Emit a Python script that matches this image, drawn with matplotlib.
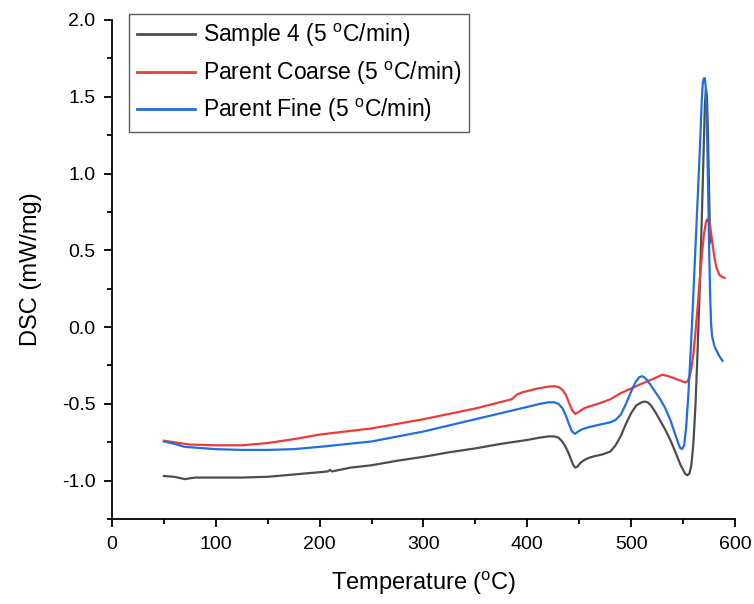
import numpy as np
import matplotlib
matplotlib.use("Agg")
import matplotlib.pyplot as plt
from matplotlib.ticker import MultipleLocator

plt.rcParams['font.family'] = ['Liberation Sans', 'DejaVu Sans']
plt.rcParams['mathtext.fontset'] = 'custom'
plt.rcParams['mathtext.rm'] = 'Liberation Sans'

# Sample 4
t_s4 = [50, 60, 70, 80, 100, 125, 150, 175, 200, 208, 210, 212, 230, 250, 275, 300,
        325, 350, 375, 400, 412, 420, 426, 430, 433, 436, 439, 442, 444, 446, 448,
        451, 455, 460, 465, 472, 480, 485, 490, 495, 500, 505, 510, 513, 516, 519,
        523, 528, 533, 538, 543, 547, 550, 552, 554, 556, 558, 560, 562, 564, 566,
        568, 570, 571, 572, 573, 574, 575, 576]
v_s4 = [-0.97, -0.975, -0.99, -0.98, -0.98, -0.98, -0.975, -0.96, -0.945, -0.94, -0.93,
        -0.94, -0.915, -0.90, -0.87, -0.845, -0.815, -0.79, -0.76, -0.735, -0.72, -0.712,
        -0.712, -0.72, -0.74, -0.77, -0.81, -0.86, -0.895, -0.915, -0.91, -0.885, -0.865,
        -0.85, -0.84, -0.83, -0.81, -0.77, -0.71, -0.63, -0.56, -0.51, -0.49, -0.485,
        -0.49, -0.51, -0.55, -0.61, -0.67, -0.74, -0.82, -0.89, -0.93, -0.955, -0.965,
        -0.955, -0.90, -0.75, -0.50, -0.15, 0.25, 0.70, 1.20, 1.45, 1.55, 1.50, 1.25,
        0.90, 0.55]

# Parent Coarse
t_pc = [50, 60, 75, 100, 125, 150, 175, 200, 250, 300, 350, 385, 390, 395, 410, 420,
        426, 430, 434, 437, 440, 443, 446, 449, 452, 456, 463, 470, 480, 490, 500, 508,
        515, 522, 530, 536, 542, 548, 552, 554, 556, 558, 560, 562, 564, 566, 568, 570,
        572, 573, 574, 576, 578, 580, 582, 585, 588, 590]
v_pc = [-0.74, -0.75, -0.765, -0.77, -0.77, -0.755, -0.73, -0.70, -0.66, -0.60, -0.53,
        -0.47, -0.44, -0.425, -0.40, -0.388, -0.385, -0.39, -0.41, -0.44, -0.49, -0.54,
        -0.565, -0.555, -0.54, -0.525, -0.51, -0.495, -0.47, -0.43, -0.40, -0.375, -0.355,
        -0.335, -0.31, -0.32, -0.335, -0.35, -0.36, -0.355, -0.33, -0.27, -0.17, -0.03,
        0.13, 0.30, 0.46, 0.60, 0.68, 0.70, 0.70, 0.66, 0.56, 0.46, 0.39, 0.34, 0.325, 0.32]

# Parent Fine
t_pf = [50, 60, 70, 100, 125, 150, 175, 200, 250, 300, 350, 400, 412, 420, 426, 430,
        434, 437, 440, 443, 446, 449, 453, 460, 470, 480, 485, 490, 495, 500, 504, 508,
        511, 514, 518, 523, 528, 533, 538, 542, 545, 547, 549, 551, 553, 555, 557, 559,
        561, 563, 565, 567, 568, 569, 570, 571, 572, 573, 574, 575, 576, 577, 578, 580,
        582, 585, 588]
v_pf = [-0.745, -0.76, -0.78, -0.795, -0.80, -0.80, -0.795, -0.78, -0.745, -0.68, -0.60,
        -0.52, -0.50, -0.49, -0.49, -0.50, -0.53, -0.575, -0.63, -0.68, -0.695, -0.68,
        -0.665, -0.65, -0.635, -0.62, -0.605, -0.57, -0.50, -0.42, -0.36, -0.325, -0.32,
        -0.335, -0.37, -0.42, -0.47, -0.53, -0.61, -0.69, -0.75, -0.785, -0.795, -0.77,
        -0.65, -0.45, -0.20, 0.08, 0.38, 0.68, 0.98, 1.30, 1.48, 1.59, 1.62, 1.62, 1.55,
        1.30, 0.95, 0.55, 0.22, 0.02, -0.06, -0.12, -0.15, -0.19, -0.22]

labels = ['Sample 4 (5 $^{\\mathrm{o}}$C/min)',
          'Parent Coarse (5 $^{\\mathrm{o}}$C/min)',
          'Parent Fine (5 $^{\\mathrm{o}}$C/min)']
colors = ['#4d4d4d', '#ef3a3a', '#1f6fe0']

fig = plt.figure(figsize=(7.54, 6.04), dpi=100)
ax = fig.add_axes([0.1485, 0.1407, 0.8263, 0.8262])

ax.plot(t_s4, v_s4, color=colors[0], lw=1.6, label=labels[0])
ax.plot(t_pc, v_pc, color=colors[1], lw=1.6, label=labels[1])
ax.plot(t_pf, v_pf, color=colors[2], lw=1.6, label=labels[2])

ax.set_xlim(0, 600)
ax.set_ylim(-1.25, 2.0)
ax.xaxis.set_major_locator(MultipleLocator(100))
ax.xaxis.set_minor_locator(MultipleLocator(50))
ax.yaxis.set_major_locator(MultipleLocator(0.5))
ax.yaxis.set_minor_locator(MultipleLocator(0.25))
ax.yaxis.set_major_formatter(plt.FuncFormatter(lambda v, p: '%.1f' % v))

for s in ['top', 'right']:
    ax.spines[s].set_visible(False)
for s in ['left', 'bottom']:
    ax.spines[s].set_linewidth(1.3)
    ax.spines[s].set_clip_on(False)
ax.tick_params(which='major', direction='out', length=6, width=1.3, labelsize=14, pad=6)
ax.tick_params(which='minor', direction='out', length=3.5, width=1.3)

ax.set_xlabel('Temperature ($^{\\mathrm{o}}$C)', fontsize=17, labelpad=12)
ax.set_ylabel('DSC (mW/mg)', fontsize=17, labelpad=14)

leg = ax.legend(loc='upper left', bbox_to_anchor=(0.028, 1.012), fontsize=16.5,
                frameon=True, fancybox=False, edgecolor='#333333',
                handlelength=2.5, handletextpad=0.35, borderpad=0.35, labelspacing=0.45,
                borderaxespad=0)
leg.get_frame().set_linewidth(1.0)
for line in leg.get_lines():
    line.set_linewidth(2.0)

fig.savefig('out.png', dpi=100)
